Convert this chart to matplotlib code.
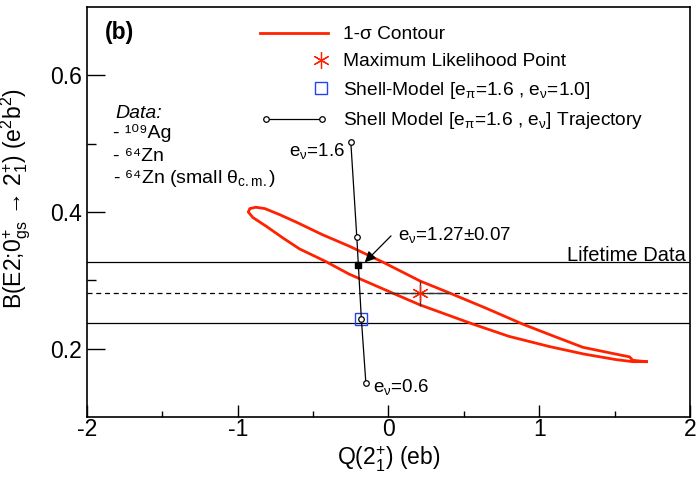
import matplotlib
matplotlib.use("Agg")
import matplotlib.pyplot as plt
from matplotlib.legend_handler import HandlerLine2D
import numpy as np

plt.rcParams['font.family'] = ['Liberation Sans', 'DejaVu Sans']
plt.rcParams['mathtext.fontset'] = 'custom'
plt.rcParams['mathtext.rm'] = 'Liberation Sans'
plt.rcParams['mathtext.it'] = 'Liberation Sans:italic'
plt.rcParams['mathtext.default'] = 'regular'
plt.rcParams['axes.unicode_minus'] = False

# 1-sigma contour, traced around the loop (upper branch right->left, lower branch left->right)
contour_q = [1.71, 1.62, 1.60, 1.51, 1.29, 1.10, 0.89, 0.65, 0.40, 0.21, -0.04, -0.26, -0.44,
             -0.60, -0.72, -0.82, -0.88, -0.92, -0.93, -0.90, -0.81, -0.70, -0.59, -0.42,
             -0.26, 0.00, 0.21, 0.56, 0.80, 1.07, 1.30, 1.51, 1.62, 1.71]
contour_b = [0.181, 0.183, 0.188, 0.192, 0.202, 0.218, 0.236, 0.259, 0.282, 0.299, 0.327, 0.350, 0.367,
             0.384, 0.396, 0.405, 0.407, 0.405, 0.400, 0.392, 0.379, 0.362, 0.346, 0.328,
             0.309, 0.284, 0.264, 0.236, 0.218, 0.203, 0.192, 0.184, 0.181, 0.181]

# maximum likelihood point with errors
ml_q = 0.21
ml_b = 0.282
ml_q_err = [[0.21], [0.19]]
ml_b_err = [[0.019], [0.017]]

# shell-model point and trajectory
sm_q = -0.18
sm_b = 0.244
traj_q = [-0.25, -0.21, -0.18, -0.15]
traj_b = [0.503, 0.363, 0.244, 0.150]
best_q = -0.20
best_b = 0.323

# lifetime data
life_b = 0.282
life_lo = 0.237
life_hi = 0.327


# ROOT-style legend: single marker drawn near the right end of the handle
class RightMarkerHandler(HandlerLine2D):
    def get_xdata(self, legend, xdescent, ydescent, width, height, fontsize):
        xm = np.array([-xdescent + 0.9 * width])
        return xm, xm


fig = plt.figure(figsize=(6.99, 4.78), dpi=100)
ax = fig.add_axes([0.1245, 0.1276, 0.8625, 0.8577])

ax.axhline(life_hi, color='black', lw=0.9)
ax.axhline(life_lo, color='black', lw=0.9)
ax.axhline(life_b, color='black', lw=0.9, ls=(0, (4, 3)))
ax.text(1.97, life_hi + 0.0015, 'Lifetime Data', ha='right', va='baseline', fontsize=14.5)

contour_line, = ax.plot(contour_q, contour_b, color='#ff2200', lw=2.0, label='1-σ Contour')

ax.errorbar([ml_q], [ml_b], xerr=ml_q_err, yerr=ml_b_err, fmt='none', ecolor='#333333', elinewidth=1.0, capsize=0)
ml_line, = ax.plot([ml_q], [ml_b], ls='none', marker=(6, 2, 0), ms=12, mec='#ff2200', mew=0.9,
                   label='Maximum Likelihood Point')

sm_line, = ax.plot([sm_q], [sm_b], ls='none', marker='s', ms=8, mfc='none', mec='#2244ee', mew=1.0,
                   label=r'Shell-Model [e$_{\pi}$=1.6 , e$_{\nu}$=1.0]')

traj_line, = ax.plot(traj_q, traj_b, color='black', lw=0.9, marker='o', ms=4, mfc='white', mec='black', mew=0.9,
                     label=r'Shell Model [e$_{\pi}$=1.6 , e$_{\nu}$] Trajectory')
ax.plot([best_q], [best_b], ls='none', marker='s', ms=4.5, color='black')

ax.annotate('', xy=(-0.17, 0.3235), xytext=(0.03, 0.368),
            arrowprops=dict(arrowstyle='-|>', color='black', lw=0.9, mutation_scale=16))
ax.text(0.06, 0.366, r'e$_{\nu}$=1.27±0.07', ha='left', va='center', fontsize=13.5)
ax.text(-0.29, 0.490, r'e$_{\nu}$=1.6', ha='right', va='center', fontsize=13.5)
ax.text(-0.10, 0.144, r'e$_{\nu}$=0.6', ha='left', va='center', fontsize=13.5)

ax.text(-1.88, 0.663, '(b)', fontsize=16.5, fontweight='bold', ha='left', va='center')
ax.text(-1.81, 0.538, 'Data:', fontsize=14, style='italic', ha='left', va='baseline')
ax.text(-1.83, 0.508, '- ¹⁰⁹Ag', fontsize=14, ha='left', va='baseline')
ax.text(-1.83, 0.475, '- ⁶⁴Zn', fontsize=14, ha='left', va='baseline')
ax.text(-1.83, 0.442, r'- ⁶⁴Zn (small θ$_{c.m.}$)', fontsize=14, ha='left', va='baseline')

right_marker = RightMarkerHandler(numpoints=2)
ax.legend(handles=[contour_line, ml_line, sm_line, traj_line], loc='upper left',
          bbox_to_anchor=(0.287, 0.954), frameon=False, fontsize=13.8,
          handlelength=3.55, handletextpad=0.78, labelspacing=0.5, borderpad=0, borderaxespad=0,
          handler_map={ml_line: right_marker, sm_line: right_marker,
                       traj_line: HandlerLine2D(numpoints=2)})

ax.set_xlim(-2, 2)
ax.set_ylim(0.1, 0.7)
ax.set_xticks([-2, -1, 0, 1, 2])
ax.set_xticks([-1.5, -0.5, 0.5, 1.5], minor=True)
ax.set_yticks([0.2, 0.4, 0.6])
ax.set_yticks([0.3, 0.5], minor=True)
ax.tick_params(axis='both', which='both', direction='in', top=False, right=False, labelsize=16.5, width=1.0)
ax.tick_params(axis='y', which='major', length=13)
ax.tick_params(axis='y', which='minor', length=6.5)
ax.tick_params(axis='x', which='major', length=9, pad=1)
ax.tick_params(axis='x', which='minor', length=4.5, pad=1)
for s in ax.spines.values():
    s.set_linewidth(1.2)

ax.set_xlabel(r'Q(2$^{+}_{1}$) (eb)', fontsize=16.5, labelpad=2)
ax.set_ylabel(r'B(E2;0$^{+}_{gs}$ → 2$^{+}_{1}$) (e$^{2}$b$^{2}$)', fontsize=16.5)
ax.yaxis.set_label_coords(-0.09, 0.534)

fig.savefig('out.png', dpi=100)
